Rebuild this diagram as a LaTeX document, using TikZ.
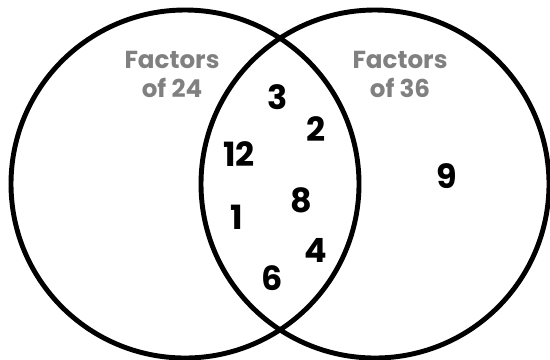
\documentclass[tikz,border=0pt]{standalone}
\usepackage{fontspec}
\setmainfont{Poppins}
\definecolor{ink}{HTML}{000000}
\definecolor{greytx}{HTML}{808080}

\begin{document}
\begin{tikzpicture}[x=0.02cm,y=-0.02cm,font=\bfseries]
  \useasboundingbox (0,0) rectangle (550,359);

  % the two sets, radius in px
  \def\rad{174}
  \draw[ink,line width=2.8pt] (185,184) circle[radius=\rad];
  \draw[ink,line width=2.8pt] (375,184) circle[radius=\rad];

  % set titles
  \node[greytx,font=\fontsize{14}{16.5}\selectfont\bfseries,align=center] (tA) at (172,74)
       {Factors\\of 24};
  \node[greytx,font=\fontsize{14}{16.5}\selectfont\bfseries,align=center] (tB) at (400,74)
       {Factors\\of 36};

  % elements
  \foreach \n/\x/\y in {3/278/97, 2/316/129, 12/239/154, 8/301/200,
                        1/237/217, 4/316/250, 6/272/278, 9/447/176}{
    \node[ink,font=\fontsize{19}{21}\selectfont\bfseries,inner sep=0pt] (e\n) at (\x,\y) {\n};}
\end{tikzpicture}
\end{document}
